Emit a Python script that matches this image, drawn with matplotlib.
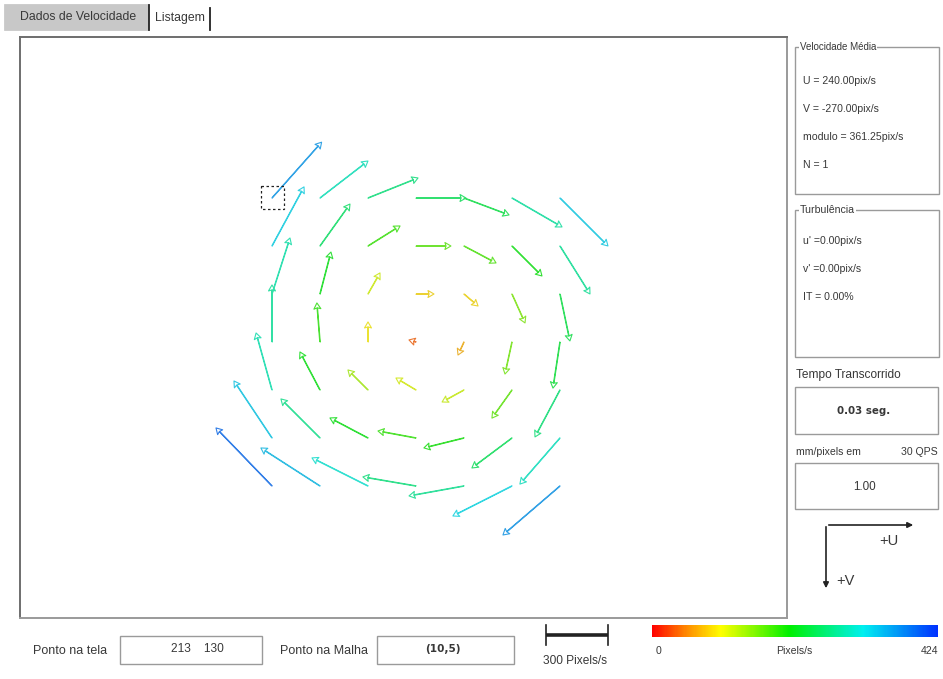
import numpy as np
import matplotlib
matplotlib.use("Agg")
import matplotlib.pyplot as plt
from matplotlib.colors import LinearSegmentedColormap, Normalize
from matplotlib.patches import Rectangle
from matplotlib.cm import ScalarMappable

# velocity on the 7x7 measuring grid (pix/s), rows top -> bottom, +V is down
U = [
    [240, 232, 242, 242, 218, 242, 232],
    [155, 145, 155, 169, 155, 145, 145],
    [87, 53, 58, 87, 68, 63, 48],
    [0, -15, 0, -34, -29, -34, -34],
    [-77, -97, -97, -97, -106, -97, -121],
    [-184, -189, -184, -184, -194, -194, -194],
    [-271, -286, -271, -257, -266, -286, -276],
]
V = [
    [-270, -179, -97, 0, 82, 140, 232],
    [-286, -203, -97, 0, 82, 145, 232],
    [-271, -203, -102, 0, 58, 140, 227],
    [-276, -189, -97, -10, 63, 155, 223],
    [-276, -184, -97, -58, 58, 136, 227],
    [-276, -189, -97, -34, 48, 145, 223],
    [-281, -184, -136, -44, 48, 145, 237],
]
selected = (0, 0)          # grid cell shown in "Ponto na Malha"
vmax = 424                 # colour scale top, pix/s
scale_ref = 300            # reference bar, pix/s

mean_lines = ["U = 240.00pix/s", "V = -270.00pix/s", "modulo = 361.25pix/s", "N = 1"]
turb_lines = ["u' =0.00pix/s", "v' =0.00pix/s", "IT = 0.00%"]
elapsed = "0.03 seg."
mm_per_pixel = "1.00"
fps_label = "30 QPS"
screen_point = "213    130"
grid_point = "(10,5)"

W, H = 943, 679
TXT = "#383838"
EDGE = "#9a9a9a"
plt.rcParams["font.family"] = ["Liberation Sans", "DejaVu Sans"]

cmap = LinearSegmentedColormap.from_list(
    "piv",
    [(0.0, "#ff0000"), (0.12, "#ff8a00"), (0.24, "#ffff00"),
     (0.48, "#00f000"), (0.74, "#00f0f0"), (1.0, "#0030ff")],
)
norm = Normalize(0, vmax)

fig = plt.figure(figsize=(W / 100, H / 100), dpi=100)
fig.patch.set_facecolor("white")
ui = fig.add_axes([0, 0, 1, 1])
ui.set_xlim(0, W)
ui.set_ylim(H, 0)
ui.axis("off")


def box(x0, y0, x1, y1, ec=EDGE, fc="white", lw=1.0, **kw):
    ui.add_patch(Rectangle((x0, y0), x1 - x0, y1 - y0, ec=ec, fc=fc, lw=lw, **kw))


def label(x, y, s, size=7.6, ha="left", **kw):
    ui.text(x, y, s, fontsize=size, ha=ha, va="center", color=TXT, **kw)


# tabs
box(4, 4, 148, 30, ec="#c4c4c4", fc="#c8c8c8", lw=0.5)
ui.plot([149, 149], [5, 30], color="#222222", lw=1.3)
ui.plot([210, 210], [8, 30], color="#222222", lw=1.3)
label(78, 17, "Dados de Velocidade", size=8.8, ha="center")
label(180, 18, "Listagem", size=8.8, ha="center")

# right-hand info panel
box(795, 47, 939, 194)
label(800, 47, "Velocidade Média", size=7.0, bbox=dict(fc="white", ec="none", pad=0.5))
for k, s in enumerate(mean_lines):
    label(803, 81 + 28 * k, s)
box(795, 210, 939, 357)
label(800, 210, "Turbulência", size=7.6, bbox=dict(fc="white", ec="none", pad=0.5))
for k, s in enumerate(turb_lines):
    label(803, 241 + 28 * k, s)

label(796, 375, "Tempo Transcorrido", size=8.6)
box(795, 387, 938, 434)
label(864, 411, elapsed, ha="center", fontweight="bold", family="DejaVu Sans", size=7.4)
label(796, 452, "mm/pixels em")
label(938, 452, fps_label, ha="right")
box(795, 463, 938, 509)
label(864, 487, mm_per_pixel, ha="center", size=8.4)

ui.annotate("", xy=(916, 525), xytext=(826, 525),
            arrowprops=dict(arrowstyle="-|>", color="#222222", lw=1.2, mutation_scale=8))
ui.annotate("", xy=(826, 591), xytext=(826, 524),
            arrowprops=dict(arrowstyle="-|>", color="#222222", lw=1.2, mutation_scale=8))
label(879, 541, "+U", size=10.5)
label(836, 581, "+V", size=10.5)

# bottom status bar
label(33, 651, "Ponto na tela", size=9)
box(120, 636, 262, 664)
label(197, 649, screen_point, ha="center", size=8.6)
label(280, 651, "Ponto na Malha", size=9)
box(377, 636, 514, 664)
label(443, 649, grid_point, ha="center", fontweight="bold", family="DejaVu Sans", size=7.6)

# field panel
fx0, fy0, fx1, fy1 = 20, 37, 787, 618
field = fig.add_axes([fx0 / W, 1 - fy1 / H, (fx1 - fx0) / W, (fy1 - fy0) / H])
field.set_xlim(fx0, fx1)
field.set_ylim(fy1, fy0)
field.set_xticks([])
field.set_yticks([])
for side, sp in field.spines.items():
    sp.set_color("#6e6e6e" if side in ("top", "left") else "#9a9a9a")
    sp.set_linewidth(1.4)

u = np.array(U, dtype=float)
v = np.array(V, dtype=float)
speed = np.hypot(u, v)
rows, cols = u.shape
gx0, gy0, step = 272, 198, 48
X, Y = np.meshgrid(gx0 + step * np.arange(cols), gy0 + step * np.arange(rows))

px_per_unit = 62 / scale_ref
base = cmap(norm(speed.ravel()))
colors = base.copy()
colors[:, :3] = base[:, :3] * 0.72 + 0.2

field.quiver(X, Y, u, v, angles="xy", scale_units="xy", scale=1 / px_per_unit,
             units="xy", width=0.5, headwidth=14, headlength=12, headaxislength=10,
             facecolors="none", edgecolors=colors, linewidths=0.8)

si, sj = selected
field.add_patch(Rectangle((X[sj, si] - 11, Y[sj, si] - 12), 23, 23, fill=False,
                          ec="#222222", lw=0.9, ls=(0, (2, 2))))

# reference length bar
bar_len = scale_ref * px_per_unit
ui.plot([546, 546 + bar_len], [635, 635], color="#222222", lw=2.6, solid_capstyle="butt")
ui.plot([546, 546], [625, 645], color="#222222", lw=1.2)
ui.plot([546 + bar_len, 546 + bar_len], [625, 645], color="#222222", lw=1.2)
label(575, 661, f"{scale_ref} Pixels/s", ha="center", size=8.6)

# colour scale
cax = fig.add_axes([652 / W, 1 - 637 / H, 286 / W, 12 / H])
cb = fig.colorbar(ScalarMappable(norm=norm, cmap=cmap), cax=cax, orientation="horizontal")
cb.set_ticks([])
cb.outline.set_visible(False)
label(656, 651, "0")
label(794, 651, "Pixels/s", ha="center")
label(938, 651, str(vmax), ha="right")

fig.savefig("out.png", dpi=100, facecolor="white")
